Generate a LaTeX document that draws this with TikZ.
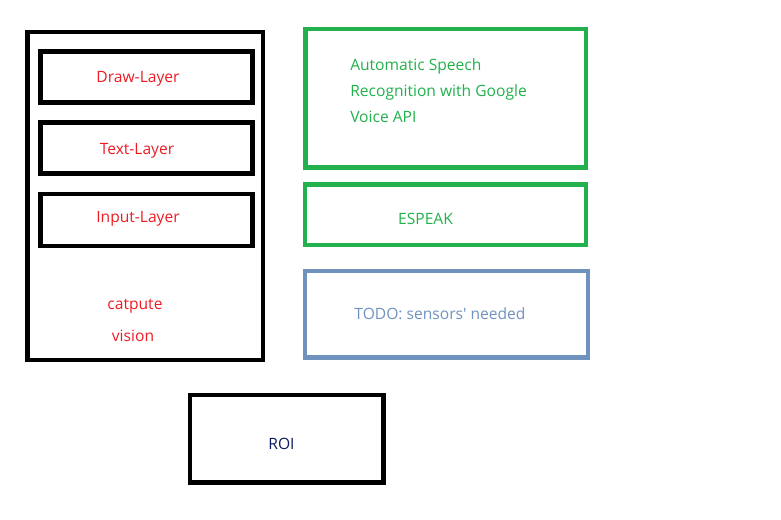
\documentclass[tikz,border=0pt]{standalone}
\usepackage{fontspec}
\setmainfont{Open Sans}
\usepackage{xcolor}
\definecolor{paintred}{HTML}{ED1C24}
\definecolor{paintgreen}{HTML}{22B14C}
\definecolor{paintblue}{HTML}{7092BE}
\definecolor{roinavy}{HTML}{0B1B5C}
\usepackage{tikz}
\usetikzlibrary{positioning}

\begin{document}
\begin{tikzpicture}[
        x=0.75pt, y=-0.75pt,
        frame/.style={draw, rectangle, line width=3.6pt, inner sep=0pt},
        layer/.style={frame, minimum width=159pt, minimum height=38.4pt},
        txt/.style={font=\fontsize{11.7}{19.5}\selectfont, inner sep=0pt}
    ]
        \useasboundingbox (0,0) rectangle (781,520);

        % Left column: layers
        \node[frame, minimum width=176.6pt, minimum height=246pt] (stack) at (145.25,196) {};
        \node[layer] (draw) at (146.5,77) {};
        \node[layer] (text) at (146.5,147.75) {};
        \node[layer, minimum height=39pt] (input) at (146.5,220) {};

        \node[txt, text=paintred] (drawlbl) at (138,78.5) {Draw-Layer};
        \node[txt, text=paintred] (textlbl) at (137,150.5) {Text-Layer};
        \node[txt, text=paintred] (inputlbl) at (138,218.5) {Input-Layer};
        \node[txt, text=paintred] (capture) at (135,306) {catpute};
        \node[txt, text=paintred] (vision) at (133,336) {vision};

        % Right column: speech and sensors
        \node[frame, draw=paintgreen, minimum width=210.2pt, minimum height=103.9pt] (asr) at (445.9,98.25) {};
        \node[frame, draw=paintgreen, minimum width=210.75pt, minimum height=45.4pt] (espeak) at (445.5,214.75) {};
        \node[frame, draw=paintblue, minimum width=212.25pt, minimum height=64.9pt] (todo) at (446.5,314.25) {};

        \node[txt, text=paintgreen, align=left, anchor=north west] (asrlbl) at (350,58) {Automatic Speech\\Recognition with Google\\Voice API};
        \node[txt, text=paintgreen] (espeaklbl) at (425.5,218.5) {ESPEAK};
        \node[txt, text=paintblue] (todolbl) at (440,313.5) {TODO: sensors\textquotesingle{} needed};

        % Bottom
        \node[frame, minimum width=145.1pt, minimum height=65.6pt] (roi) at (286.75,438.75) {};
        \node[txt, text=roinavy] (roilbl) at (281.5,444) {ROI};
    \end{tikzpicture}
\end{document}
